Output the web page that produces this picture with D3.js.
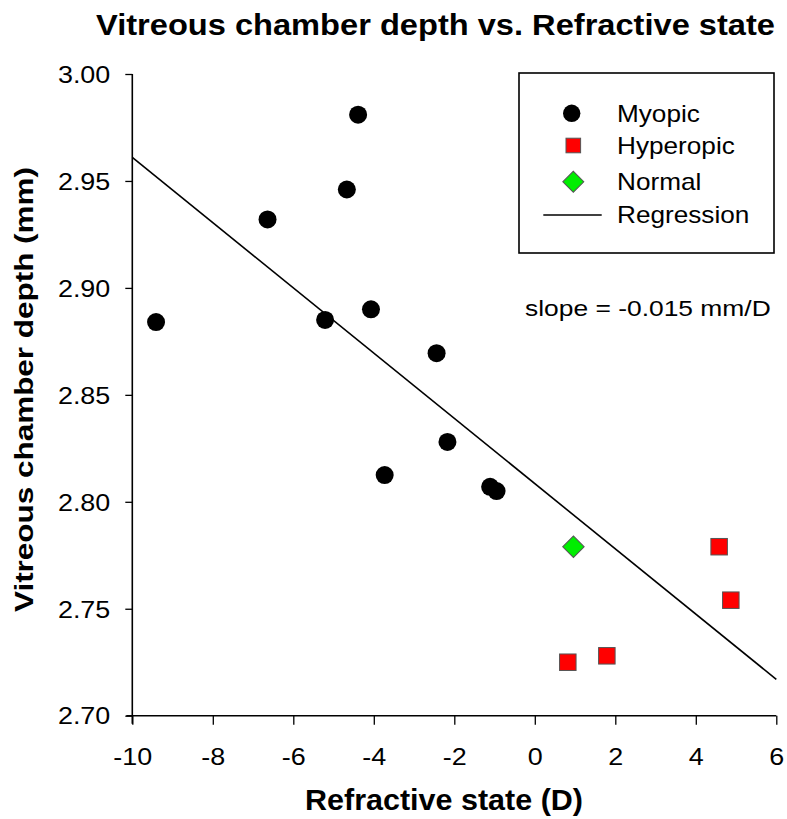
<!DOCTYPE html>
<html>
<head>
<meta charset="utf-8">
<script src="https://cdn.jsdelivr.net/npm/d3@7"></script>
<style>
  html, body { margin: 0; padding: 0; background: #fff; }
  svg { display: block; font-family: "Liberation Sans", Arial, sans-serif; }
</style>
</head>
<body>
<svg id="chart" width="787" height="819"></svg>
<script>
// ---- data ----
const myopicX = [-9.41, -6.64, -5.21, -4.67, -4.39, -4.07, -3.73, -2.44, -2.17, -1.11, -0.95];
const myopicY = [2.884, 2.932, 2.885, 2.946, 2.981, 2.890, 2.8125, 2.8695, 2.828, 2.807, 2.805];
const hyperopicX = [0.82, 1.79, 4.58, 4.87];
const hyperopicY = [2.725, 2.728, 2.779, 2.754];
const normalX = [0.96];
const normalY = [2.779];
const regressionX = [-10, 6];
const regressionY = [2.961, 2.717];
const xTicks = [-10, -8, -6, -4, -2, 0, 2, 4, 6];
const yTicks = [2.70, 2.75, 2.80, 2.85, 2.90, 2.95, 3.00];
const legendLabels = ["Myopic", "Hyperopic", "Normal", "Regression"];
const titleText = "Vitreous chamber depth vs. Refractive state";
const xLabelText = "Refractive state (D)";
const yLabelText = "Vitreous chamber depth (mm)";
const slopeText = "slope = -0.015 mm/D";

// ---- layout ----
const svg = d3.select("#chart");
const plotL = 132.3, plotR = 776.3, plotT = 74, plotB = 715.7;
const x = d3.scaleLinear().domain([-10, 6]).range([plotL, plotR]);
const y = d3.scaleLinear().domain([2.70, 3.00]).range([plotB, plotT]);

function stretch(sel, target) {
  sel.each(function () {
    const w = this.getComputedTextLength();
    const t = typeof target === "function" ? target(w) : target;
    this.setAttribute("textLength", t);
    this.setAttribute("lengthAdjust", "spacingAndGlyphs");
  });
}

// title
svg.append("text")
  .attr("x", 435.5).attr("y", 35)
  .attr("text-anchor", "middle")
  .attr("font-size", 30).attr("font-weight", "bold")
  .text(titleText)
  .call(stretch, 679);

// axes
const xAxis = d3.axisBottom(x).tickValues(xTicks).tickSize(9).tickPadding(22)
  .tickFormat(d => String(d));
const gx = svg.append("g").attr("transform", `translate(0,${plotB})`).call(xAxis);
gx.select(".domain").attr("stroke", "#000").attr("stroke-width", 1.6)
  .attr("d", `M${plotL - 6},0H${plotR}`);
gx.selectAll(".tick line").attr("stroke", "#000").attr("stroke-width", 1.3);
gx.selectAll(".tick text").attr("font-size", 23).attr("fill", "#000")
  .attr("font-family", "Liberation Sans, Arial, sans-serif")
  .attr("dy", "0.78em")
  .call(stretch, w => w * 1.17);

const yAxis = d3.axisLeft(y).tickValues(yTicks).tickSize(7).tickPadding(15)
  .tickFormat(d => d.toFixed(2));
const gy = svg.append("g").attr("transform", `translate(${plotL},0)`).call(yAxis);
gy.select(".domain").attr("stroke", "#000").attr("stroke-width", 1.6)
  .attr("d", `M0,${plotT}V${plotB + 8}`);
gy.selectAll(".tick line").attr("stroke", "#000").attr("stroke-width", 1.3);
gy.selectAll(".tick text").attr("font-size", 23).attr("fill", "#000")
  .attr("font-family", "Liberation Sans, Arial, sans-serif")
  .attr("dy", "0.36em")
  .call(stretch, w => w * 1.17);

// axis labels
svg.append("text")
  .attr("x", 444).attr("y", 810)
  .attr("text-anchor", "middle")
  .attr("font-size", 29).attr("font-weight", "bold")
  .text(xLabelText)
  .call(stretch, 278);

svg.append("text")
  .attr("transform", "translate(33,389.5) rotate(-90)")
  .attr("text-anchor", "middle")
  .attr("font-size", 25.5).attr("font-weight", "bold")
  .text(yLabelText)
  .call(stretch, 445);

// regression line
const regData = regressionX.map((d, i) => [d, regressionY[i]]);
svg.append("path")
  .datum(regData)
  .attr("fill", "none").attr("stroke", "#000").attr("stroke-width", 1.6)
  .attr("d", d3.line().x(d => x(d[0])).y(d => y(d[1])));

// myopic circles
svg.append("g").selectAll("circle")
  .data(myopicX.map((d, i) => [d, myopicY[i]]))
  .join("circle")
  .attr("cx", d => x(d[0])).attr("cy", d => y(d[1]))
  .attr("r", 9).attr("fill", "#000");

// hyperopic squares
const sq = 16.5;
svg.append("g").selectAll("rect")
  .data(hyperopicX.map((d, i) => [d, hyperopicY[i]]))
  .join("rect")
  .attr("x", d => x(d[0]) - sq / 2).attr("y", d => y(d[1]) - sq / 2)
  .attr("width", sq).attr("height", sq)
  .attr("fill", "#ff0000").attr("stroke", "#555").attr("stroke-width", 1);

// normal diamond
const diamond = d3.symbol().type(d3.symbolSquare).size(230);
svg.append("g").selectAll("path")
  .data(normalX.map((d, i) => [d, normalY[i]]))
  .join("path")
  .attr("transform", d => `translate(${x(d[0])},${y(d[1])}) rotate(45)`)
  .attr("d", diamond)
  .attr("fill", "#00ee00").attr("stroke", "#555").attr("stroke-width", 1);

// slope annotation
svg.append("text")
  .attr("x", 525).attr("y", 315.7)
  .attr("font-size", 22.5)
  .text(slopeText)
  .call(stretch, 245.7);

// legend
const lg = svg.append("g");
lg.append("rect").attr("x", 519).attr("y", 73).attr("width", 255).attr("height", 180)
  .attr("fill", "#fff").attr("stroke", "#000").attr("stroke-width", 1.6);
const legY = [113.3, 145.5, 181.7, 215];
const legBase = [121.7, 154.3, 190, 223.3];
lg.append("circle").attr("cx", 571.7).attr("cy", legY[0]).attr("r", 8.7).attr("fill", "#000");
lg.append("rect").attr("x", 573.3 - 7.3).attr("y", legY[1] - 7.3).attr("width", 14.6).attr("height", 14.6)
  .attr("fill", "#ff0000").attr("stroke", "#555").attr("stroke-width", 1);
lg.append("path").attr("transform", `translate(573.3,${legY[2]}) rotate(45)`)
  .attr("d", d3.symbol().type(d3.symbolSquare).size(220))
  .attr("fill", "#00ee00").attr("stroke", "#555").attr("stroke-width", 1);
lg.append("line").attr("x1", 543.3).attr("x2", 601.7).attr("y1", legY[3]).attr("y2", legY[3])
  .attr("stroke", "#000").attr("stroke-width", 1.6);
lg.selectAll("text.leg").data(legendLabels).join("text")
  .attr("class", "leg")
  .attr("x", 617).attr("y", (d, i) => legBase[i])
  .attr("font-size", 24)
  .text(d => d)
  .call(stretch, w => w * 1.09);
</script>
</body>
</html>
